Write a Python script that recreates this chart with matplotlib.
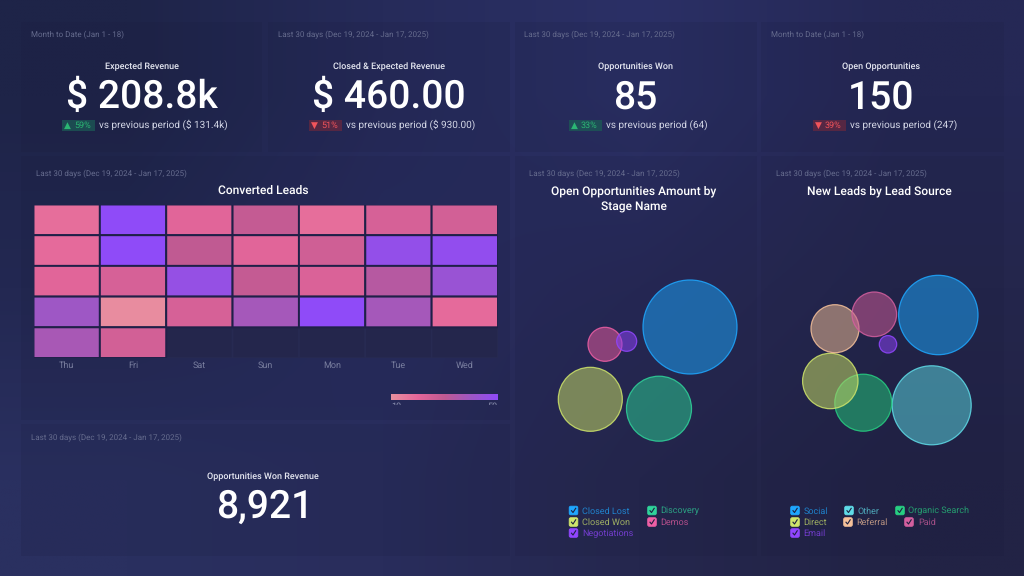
import numpy as np
import matplotlib
matplotlib.use("Agg")
import matplotlib.pyplot as plt
from matplotlib.colors import LinearSegmentedColormap, ListedColormap, to_rgb
from matplotlib.patches import Rectangle, FancyBboxPatch
from matplotlib.transforms import Bbox

plt.rcParams['font.family'] = ['Roboto', 'DejaVu Sans']
plt.rcParams['text.hinting'] = 'no_hinting'
plt.rcParams['text.hinting_factor'] = 1

# ---------- data ----------
kpi_periods = ["Month to Date (Jan 1 - 18)", "Last 30 days (Dec 19, 2024 - Jan 17, 2025)",
               "Last 30 days (Dec 19, 2024 - Jan 17, 2025)", "Month to Date (Jan 1 - 18)"]
kpi_titles = ["Expected Revenue", "Closed & Expected Revenue", "Opportunities Won", "Open Opportunities"]
kpi_values = ["$ 208.8k", "$ 460.00", "85", "150"]
kpi_changes = ["59%", "51%", "33%", "39%"]
kpi_up = [True, False, True, False]
kpi_previous = ["vs previous period ($ 131.4k)", "vs previous period ($ 930.00)",
                "vs previous period (64)", "vs previous period (247)"]

days = ["Thu", "Fri", "Sat", "Sun", "Mon", "Tue", "Wed"]
nan = np.nan
leads = np.array([
    [18, 50, 21, 29, 18, 24, 25],
    [19, 50, 30, 21, 26, 47, 48],
    [21, 24, 46, 29, 23, 33, 43],
    [40, 11, 24, 38, 50, 38, 19],
    [37, 25, nan, nan, nan, nan, nan],
])

stage_names = ["Closed Lost", "Closed Won", "Discovery", "Demos", "Negotiations"]
stage_x = [690, 590.3, 659, 605, 626.7]
stage_y = [327, 399.3, 408.7, 344.3, 341.3]
stage_r = [47, 32, 32.5, 17, 10]

source_names = ["Social", "Other", "Organic Search", "Direct", "Referral", "Paid", "Email"]
source_x = [938.3, 931.7, 863.3, 830.3, 835, 874.3, 888]
source_y = [315, 405.3, 402.7, 381, 328.7, 314.3, 344.3]
source_r = [39.7, 39.5, 28.5, 27.7, 24, 22.3, 8.7]

# ---------- style ----------
stage_colors = ["#1ea7ff", "#cfe56b", "#2fd39a", "#ee5fa5", "#9146ff"]
source_colors = ["#1ea7ff", "#5fdce8", "#27cf82", "#cfe56b", "#f6c19a", "#d45f9f", "#9146ff"]
W, H = 1024, 576
DATE = "#666c8e"
fig = plt.figure(figsize=(W / 100, H / 100), dpi=100)

def rect_ax(x0, y0, x1, y1, **kw):
    return fig.add_axes([x0 / W, 1 - y1 / H, (x1 - x0) / W, (y1 - y0) / H], **kw)

# background gradient
bg = fig.add_axes([0, 0, 1, 1])
stops = np.array([
    [[0x1e, 0x24, 0x48], [0x26, 0x2b, 0x5a], [0x2b, 0x30, 0x66], [0x25, 0x28, 0x55]],
    [[0x23, 0x28, 0x52], [0x29, 0x2d, 0x60], [0x28, 0x2a, 0x58], [0x24, 0x26, 0x4c]],
    [[0x2a, 0x30, 0x60], [0x29, 0x2d, 0x5c], [0x25, 0x27, 0x4e], [0x22, 0x23, 0x45]],
], dtype=float) / 255
bg.imshow(stops, aspect='auto', extent=[0, W, H, 0], interpolation='bilinear')
bg.set_xlim(0, W); bg.set_ylim(H, 0); bg.axis('off')

panels = [(21, 22, 262, 152), (268, 22, 510, 152), (515, 22, 757, 152), (761, 22, 1004, 152),
          (21, 156, 510, 420), (21, 424, 510, 556), (515, 156, 757, 556), (761, 156, 1004, 556)]
for (x0, y0, x1, y1) in panels:
    bg.add_patch(Rectangle((x0, y0), x1 - x0, y1 - y0, fc="#181a3a", ec="none", alpha=0.14))

# KPI tiles
centers = [142, 389, 635, 881]
date_x = [31, 278, 524.5, 771]
DATE_FS = 5.8
TITLE_FS = 6.2
HEAD_FS = 8.85
BIG_FS = 27.8
for i in range(4):
    c = centers[i]
    bg.text(date_x[i], 34.5, kpi_periods[i], color=DATE, fontsize=DATE_FS, va='center')
    bg.text(c, 66.6, kpi_titles[i], color="#e6e8f2", fontsize=TITLE_FS, fontweight='medium', ha='center', va='center')
    bg.text(c, 97.5, kpi_values[i], color="white", fontsize=BIG_FS, fontweight='medium', ha='center', va='center')
    col, bgc = ("#2bb673", "#1c5a55") if kpi_up[i] else ("#f2545b", "#66283f")
    px = [62, 309, 569, 813][i]
    bg.add_patch(Rectangle((px, 119.5), 33, 11, fc=bgc, ec="none", alpha=0.75))
    bg.text(px + 2, 125, ("\u25B2" if kpi_up[i] else "\u25BC"), color=col, fontsize=6.5, va='center', family=['DejaVu Sans'])
    bg.text(px + 12, 125, kpi_changes[i], color=col, fontsize=6.8, va='center')
    bg.text(px + 37, 125, kpi_previous[i], color="#d3d6e6", fontsize=6.9, va='center')

# heatmap
cmap = LinearSegmentedColormap.from_list("leads", [
    (0.0, "#e8909f"), (0.25, "#e5669a"), (0.5, "#c05a92"), (0.75, "#9e57c4"), (1.0, "#8f4bf8")])
bg.text(36, 174, kpi_periods[1], color=DATE, fontsize=DATE_FS, va='center')
bg.text(263, 191, "Converted Leads", color="white", fontsize=HEAD_FS, fontweight='medium', ha='center', va='center')
hax = rect_ax(33.5, 204.5, 498, 358)
hax.patch.set_alpha(0)
empty = np.ma.masked_where(~np.isnan(leads), np.zeros_like(leads))
hax.pcolor(empty, cmap=ListedColormap(["#24264c"]), edgecolors="#272a52", linewidth=1.2)
hax.pcolor(np.ma.masked_invalid(leads), cmap=cmap, vmin=10, vmax=50,
           edgecolors="#1f2048", linewidth=1.4)
hax.invert_yaxis()
hax.set_xticks(np.arange(7) + 0.5, days)
hax.set_yticks([])
hax.tick_params(axis='x', length=0, pad=2.5, labelsize=6.5, labelcolor="#7b80a0")
for s in hax.spines.values():
    s.set_visible(False)

# colour scale
cax = rect_ax(391, 393.5, 497.5, 400)
cax.imshow(np.linspace(10, 50, 200)[None, :], cmap=cmap, aspect='auto', extent=[10, 50, 0, 1])
cax.axis('off')
clip = Bbox([[380 / W * fig.bbox.width, fig.bbox.height * (1 - 405 / H)],
             [510 / W * fig.bbox.width, fig.bbox.height]])
for tx, lab, ha in [(391, "10", 'left'), (497.5, "50", 'right')]:
    t = bg.text(tx, 406, lab, color="#8a8fae", fontsize=6.5, ha=ha, va='center')
    t.set_clip_box(clip); t.set_clip_on(True)

# bottom KPI
bg.text(31, 437.5, kpi_periods[1], color=DATE, fontsize=DATE_FS, va='center')
bg.text(263, 476.6, "Opportunities Won Revenue", color="#e6e8f2", fontsize=TITLE_FS, fontweight='medium', ha='center', va='center')
bg.text(265, 507, "8,921", color="white", fontsize=BIG_FS, fontweight='medium', ha='center', va='center')

# bubble panels
def bubbles(xs, ys, rs, colors):
    sizes = [(2 * r * 0.72) ** 2 for r in rs]
    fc = [(*(np.array(to_rgb(c)) * 0.92), 0.56) for c in colors]
    ec = [(*to_rgb(c), 0.85) for c in colors]
    bg.scatter(xs, ys, s=sizes, c=fc, edgecolors=ec, linewidths=0.9, zorder=3)

def legend(entries):
    for name, color, bx, ty, tx in entries:
        bg.add_patch(FancyBboxPatch((bx - 4.3, ty - 4.3), 8.6, 8.6, boxstyle="round,pad=0,rounding_size=1.6",
                                    fc=color, ec=color, lw=0.6, zorder=4))
        bg.plot([bx - 2, bx - 0.5, bx + 2.2], [ty + 0.2, ty + 2, ty - 2.2], color="#1d2040", lw=0.8, zorder=5)
        bg.text(tx, ty + 0.5, name, color=color, alpha=0.72, fontsize=6.75, va='center', zorder=5)

bg.text(529, 174, kpi_periods[1], color=DATE, fontsize=DATE_FS, va='center')
bg.text(634, 191, "Open Opportunities Amount by", color="white", fontsize=HEAD_FS, fontweight='medium', ha='center', va='center')
bg.text(634, 207, "Stage Name", color="white", fontsize=HEAD_FS, fontweight='medium', ha='center', va='center')
bubbles(stage_x, stage_y, stage_r, stage_colors)
rows_left = [(573.5, 510.5, 582), (573.5, 522, 582), (652, 510.5, 660.5), (652, 522, 660.5), (573.5, 533, 582)]
legend([(stage_names[i], stage_colors[i], *rows_left[i]) for i in range(5)])

bg.text(775.5, 174, kpi_periods[1], color=DATE, fontsize=DATE_FS, va='center')
bg.text(879, 191, "New Leads by Lead Source", color="white", fontsize=HEAD_FS, fontweight='medium', ha='center', va='center')
bubbles(source_x, source_y, source_r, source_colors)
rows_right = [(795, 510.5, 803.5), (849, 510.5, 857), (900, 510.5, 908.5),
              (795, 522, 803.5), (848, 522, 856.5), (909, 522, 918), (795, 533, 803.5)]
legend([(source_names[i], source_colors[i], *rows_right[i]) for i in range(7)])

fig.savefig("out.png", dpi=100)
